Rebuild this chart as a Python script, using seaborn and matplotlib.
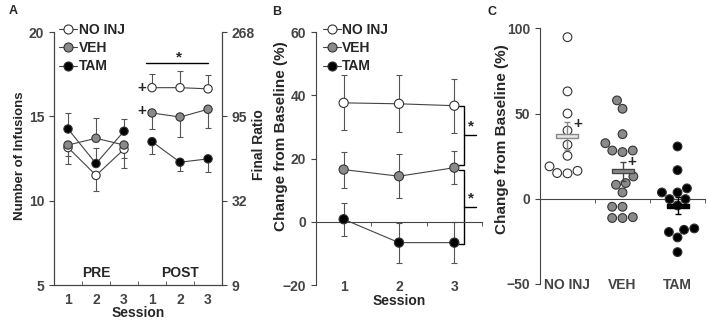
import matplotlib
matplotlib.use("Agg")
import matplotlib.pyplot as plt
from matplotlib.lines import Line2D
import numpy as np
import pandas as pd
import seaborn as sns

groups = ["NO INJ", "VEH", "TAM"]
fills = {"NO INJ": "white", "VEH": "#8a8a8a", "TAM": "black"}

# panel A: infusions, PRE sessions 1-3 then POST sessions 1-3
phase_a = ["PRE"] * 3 + ["POST"] * 3
session_labels_a = ["1", "2", "3", "1", "2", "3"]
inf_noinj = [13.15, 11.5, 13.05, 16.7, 16.7, 16.63]
inf_veh = [13.3, 13.7, 13.3, 15.2, 14.96, 15.42]
inf_tam = [14.25, 12.2, 14.12, 13.5, 12.28, 12.48]
inf_lo = {"NO INJ": [0.5, 0.95, 0.5, 0, 0, 0],
          "VEH": [1.13, 0, 1.35, 0.93, 1.2, 1.1],
          "TAM": [0, 0, 0, 0.73, 0.55, 0.8]}
inf_hi = {"NO INJ": [0, 0, 0, 0.8, 1.0, 0.85],
          "VEH": [0, 1.2, 0, 0, 0, 0],
          "TAM": [0.95, 0.9, 0.75, 0, 0, 0]}
ratio_ticks = ["9", "32", "95", "268"]

# panel B: change from baseline per session
sessions_b = [1, 2, 3]
chg_noinj = [37.6, 37.3, 36.7]
chg_veh = [16.5, 14.4, 17.1]
chg_tam = [0.8, -6.6, -6.6]
sem_noinj = [8.7, 9.0, 8.5]
sem_veh = [5.7, 7.0, 5.2]
sem_tam = [5.2, 6.3, 6.5]

# panel C: individual animals
ind_noinj = [94.8, 63.0, 50.0, 40.0, 31.7, 25.2, 19.0, 14.9, 16.4, 15.1]
ind_veh = [57.7, 52.8, 37.9, 32.6, 27.4, 28.3, 28.3, 13.1, 8.2, 9.2,
           3.7, -4.7, -4.7, -11.3, -11.3, -10.8]
ind_tam = [30.7, 16.8, 6.1, 3.7, 3.7, -0.2, -0.2, -3.9, -18.2, -19.5,
           -17.4, -22.7, -31.3]

sns.set_style("ticks")
plt.rcParams["font.family"] = ["Liberation Sans", "DejaVu Sans"]
plt.rcParams["font.weight"] = "bold"
plt.rcParams["axes.labelweight"] = "bold"
plt.rcParams["font.size"] = 10
dark = "#333333"
for k in ["axes.edgecolor", "xtick.color", "ytick.color"]:
    plt.rcParams[k] = "#444444"
plt.rcParams["axes.linewidth"] = 0.8

fig = plt.figure(figsize=(7.08, 3.21), dpi=100)
axA = fig.add_axes([0.0763, 0.1121, 0.2373, 0.7882])
axB = fig.add_axes([0.4463, 0.1121, 0.2345, 0.7882])
axC = fig.add_axes([0.7627, 0.1153, 0.2331, 0.7965])

# ---------- A ----------
rows = []
for g, vals in zip(groups, [inf_noinj, inf_veh, inf_tam]):
    for i, v in enumerate(vals):
        rows.append({"pos": i + 1, "value": v, "group": g,
                     "seg": g + phase_a[i], "lo": inf_lo[g][i], "hi": inf_hi[g][i]})
dfA = pd.DataFrame(rows)
for g in groups:
    sub = dfA[dfA["group"] == g]
    axA.errorbar(sub["pos"], sub["value"], yerr=[sub["lo"], sub["hi"]], fmt="none",
                 ecolor="#555555", elinewidth=0.8, capsize=2, capthick=0.8, zorder=1)
sns.lineplot(data=dfA, x="pos", y="value", units="seg", estimator=None,
             color="#444444", lw=0.8, ax=axA, zorder=2)
sns.scatterplot(data=dfA, x="pos", y="value", hue="group", palette=fills,
                edgecolor=dark, linewidth=0.8, s=36, legend=False, ax=axA, zorder=3)
axA.set_xlim(0.5, 6.5)
axA.set_ylim(5, 20)
axA.set_yticks([5, 10, 15, 20])
axA.set_xticks(range(1, 7))
axA.set_xticklabels(session_labels_a)
axA.set_xticks([1.5, 2.5, 3.5, 4.5, 5.5], minor=True)
axA.tick_params(axis="x", which="major", length=0, pad=6)
axA.tick_params(axis="x", which="minor", length=3, direction="in")
axA.set_xlabel("Session", labelpad=-1)
axA.set_ylabel("Number of Infusions", fontsize=9.5)
axA.yaxis.set_label_coords(-0.167, 0.51)
axA.spines["top"].set_visible(False)
axA.text(2, 5.7, "PRE", ha="center", va="center")
axA.text(5, 5.7, "POST", ha="center", va="center")
axA.plot([3.8, 6.0], [18.14, 18.14], color="black", lw=1)
axA.text(4.95, 18.1, "*", ha="center", va="bottom", fontsize=11)
axA.text(3.62, 16.7, "+", ha="center", va="center", fontsize=11)
axA.text(3.62, 15.3, "+", ha="center", va="center", fontsize=11)
axA2 = axA.twinx()
axA2.set_ylim(5, 20)
axA2.set_yticks([5, 10, 15, 20])
axA2.set_yticklabels(ratio_ticks)
axA2.set_ylabel("Final Ratio", fontsize=10)
axA2.yaxis.set_label_coords(1.18, 0.553)
axA2.spines["top"].set_visible(False)

handles = [Line2D([], [], color="#444444", lw=0.8, marker="o", ms=6.5,
                  mfc=fills[g], mec=dark, mew=0.8) for g in groups]
axA.legend(handles, groups, loc="upper left", bbox_to_anchor=(0.03, 1.035),
           frameon=False, borderpad=0, borderaxespad=0, handlelength=1.3,
           handletextpad=0.1, labelspacing=0.3)

# ---------- B ----------
rows = []
for g, vals, sems in zip(groups, [chg_noinj, chg_veh, chg_tam], [sem_noinj, sem_veh, sem_tam]):
    for s, v, e in zip(sessions_b, vals, sems):
        rows.append({"session": s, "value": v, "err": e, "group": g})
dfB = pd.DataFrame(rows)
for g in groups:
    sub = dfB[dfB["group"] == g]
    axB.errorbar(sub["session"], sub["value"], yerr=sub["err"], fmt="none",
                 ecolor="#555555", elinewidth=0.8, capsize=2, capthick=0.8, zorder=1)
sns.lineplot(data=dfB, x="session", y="value", units="group", estimator=None,
             color="#444444", lw=0.8, ax=axB, zorder=2)
sns.scatterplot(data=dfB, x="session", y="value", hue="group", palette=fills,
                edgecolor=dark, linewidth=0.8, s=44, legend=False, ax=axB, zorder=3)
axB.set_xlim(0.5, 3.5)
axB.set_ylim(-20, 60)
axB.set_yticks([-20, 0, 20, 40, 60])
axB.set_xticks(sessions_b)
axB.set_xticks([1.5, 2.5, 3.5], minor=True)
axB.spines["bottom"].set_position(("data", 0))
axB.spines["top"].set_visible(False)
axB.spines["right"].set_visible(False)
axB.tick_params(axis="x", which="major", length=0, pad=42)
axB.tick_params(axis="x", which="minor", length=3)
axB.set_xlabel("Session", labelpad=0)
axB.set_ylabel("Change from Baseline (%)", fontsize=11)
axB.yaxis.set_label_coords(-0.17, 0.59)
axB.legend(handles, groups, loc="upper left", bbox_to_anchor=(0.04, 1.035),
           frameon=False, borderpad=0, borderaxespad=0, handlelength=1.3,
           handletextpad=0.1, labelspacing=0.3)
# significance brackets
for top, bot, ly in [(36.6, 17.9, 27.3), (16.3, -7.0, 4.6)]:
    axB.plot([3.08, 3.18, 3.18, 3.08], [top, top, bot, bot], color="black", lw=1)
    axB.plot([3.18, 3.4], [ly, ly], color="black", lw=1)
    axB.text(3.3, ly + 0.5, "*", ha="center", va="bottom", fontsize=11)

# ---------- C ----------
dfC = pd.DataFrame({"group": ["NO INJ"] * len(ind_noinj) + ["VEH"] * len(ind_veh) + ["TAM"] * len(ind_tam),
                    "value": ind_noinj + ind_veh + ind_tam})
sns.swarmplot(data=dfC, x="group", y="value", hue="group", order=groups,
              palette=fills, size=6.3, edgecolor=dark, linewidth=0.8,
              legend=False, ax=axC, zorder=3)
stats = dfC.groupby("group")["value"].agg(["mean", "sem"]).reindex(groups)
box = [(-1, -0.22), (1, -0.22), (1, 0.22), (-1, 0.22), (-1, -0.22)]
box_fill = {"NO INJ": "#e6e6e6", "VEH": "#8a8a8a", "TAM": "black"}
box_edge = {"NO INJ": "#888888", "VEH": "#444444", "TAM": "black"}
for i, g in enumerate(groups):
    axC.errorbar(i, stats.loc[g, "mean"], yerr=stats.loc[g, "sem"], fmt="none",
                 ecolor=box_edge[g], elinewidth=1, capsize=2.5, capthick=1, zorder=4)
    axC.plot(i, stats.loc[g, "mean"], marker=box, ms=16, mfc=box_fill[g],
             mec=box_edge[g], mew=1, zorder=5)
axC.text(0.19, 43.8, "+", ha="center", va="center", fontsize=11)
axC.text(1.17, 21.5, "+", ha="center", va="center", fontsize=11)
axC.set_xlim(-0.5, 2.5)
axC.set_ylim(-50, 100)
axC.set_yticks([-50, 0, 50, 100])
axC.set_xticks([0, 1, 2])
axC.set_xticklabels(groups)
axC.set_xticks([0.5, 1.5, 2.5], minor=True)
axC.spines["bottom"].set_position(("data", 0))
axC.spines["top"].set_visible(False)
axC.spines["right"].set_visible(False)
axC.tick_params(axis="x", which="major", length=0, pad=57)
axC.tick_params(axis="x", which="minor", length=3)
axC.set_xlabel("")
axC.set_ylabel("Change from Baseline (%)", fontsize=11)
axC.yaxis.set_label_coords(-0.185, 0.565)

for x, y, t in [(0.012, 0.965, "A"), (0.385, 0.962, "B"), (0.688, 0.962, "C")]:
    fig.text(x, y, t, fontsize=9, ha="left", va="center")

fig.savefig("out.png", dpi=100)
